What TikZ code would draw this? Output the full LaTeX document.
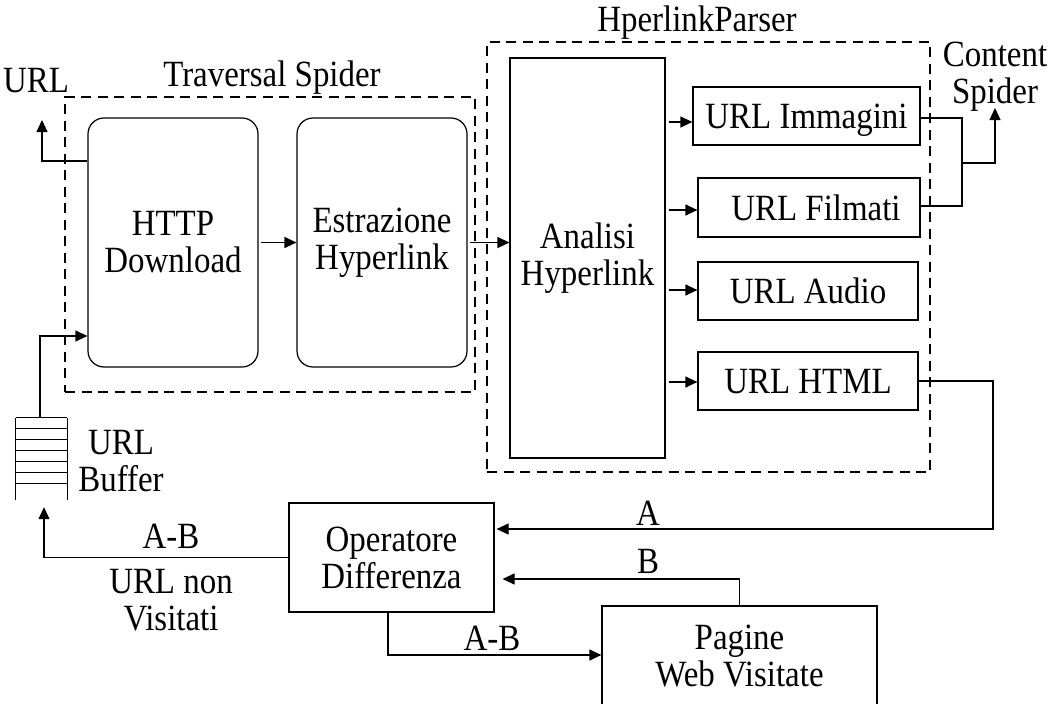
\documentclass[tikz,border=0pt]{standalone}
\usepackage{fontspec}
\setmainfont{Liberation Serif}[FakeStretch=0.89]
\usetikzlibrary{arrows.meta}
\begin{document}
\begin{tikzpicture}[x=1pt,y=-1pt,
  every node/.style={font=\fontsize{37}{37}\selectfont, align=center, inner sep=0pt},
  box/.style={draw, line width=1.2pt, minimum width=#1},
  rbox/.style={draw, line width=1.2pt, rounded corners=16pt},
  group/.style={draw, line width=2pt, dash pattern=on 10pt off 6.5pt},
  conn/.style={line width=1.2pt},
  arr/.style={conn, -{Triangle[length=12pt,width=11pt]}},
  lbl/.style={anchor=base}]
\useasboundingbox (0,0) rectangle (1055,704);

% dashed groups
\node[group, minimum width=410pt, minimum height=295pt] (trav) at (270,244.5) {};
\node[lbl] (travlbl) at (272,86) {Traversal Spider};
\node[group, minimum width=443pt, minimum height=430pt] (parser) at (708.5,257) {};
\node[lbl] (parserlbl) at (697,31) {HperlinkParser};

% traversal spider stages
\node[rbox, minimum width=170pt, minimum height=249pt] (http) at (173,242.5) {HTTP\\Download};
\node[rbox, minimum width=170pt, minimum height=249pt] (estr) at (382,242.5) {Estrazione\\Hyperlink};

% hyperlink parser
\node[box=155pt, minimum height=400pt] (analisi) at (587.5,258) {Analisi\\Hyperlink};
\node[box=227pt, minimum height=58pt, text depth=0pt] (imm) at (806.5,116) {URL Immagini};
\node[box=222pt, minimum height=59pt, text depth=0pt] (film) at (809,207.5) {\hspace*{14pt}URL Filmati};
\node[box=220pt, minimum height=58pt, text depth=0pt] (audio) at (808,291) {URL Audio};
\node[box=220pt, minimum height=58pt, text depth=0pt] (html) at (808,381) {URL HTML};

% difference operator and visited pages
\node[box=205pt, minimum height=109pt] (oper) at (391.5,557.5) {Operatore\\Differenza};
\node[box=275pt, minimum height=100pt] (pagine) at (739.5,656) {Pagine\\Web Visitate};

% URL buffer
\node[minimum width=51pt, minimum height=82pt] (buf) at (41.5,459) {};
\draw[conn] (buf.north west) -- (buf.south west);
\draw[conn] (buf.north east) -- (buf.south east);
\foreach \k in {0,...,6}
  \draw[conn] ([yshift=-11*\k pt]buf.north west) -- ([yshift=-11*\k pt]buf.north east);
\node (buflbl) at (121,461) {URL\\Buffer};

% free labels
\node[lbl] (urllbl) at (36,92) {URL};
\node (cslbl) at (995,77) {Content\\Spider};
\node[lbl] (alb) at (648,525) {A};
\node[lbl] (blb) at (648,573) {B};
\node[lbl] (ablb1) at (171,548) {A-B};
\node[lbl] (ablb2) at (492,650) {A-B};
\node (nonvis) at (171,600) {URL non\\Visitati};

% connector end points
\coordinate (urlout) at (42,120);
\coordinate (csout) at (995,108);
\coordinate (csjoin) at (962,163);
\coordinate (aturn) at (993,529);

% connectors
\draw[arr] ([xshift=2pt]http.east) -- (estr.west);
\draw[arr] ([xshift=2pt]estr.east) -- (estr.east -| analisi.west);
\draw[arr] (http.west |- 0,161) -| (urlout);
\draw[arr] ([xshift=-1.5pt]buf.north) |- (http.west |- 0,336);

\draw[arr] ([xshift=3pt]analisi.east |- 0,122) -- (imm.west |- 0,122);
\draw[arr] ([xshift=3pt]analisi.east |- 0,210) -- (film.west |- 0,210);
\draw[arr] ([xshift=3pt]analisi.east |- 0,290) -- (audio.west |- 0,290);
\draw[arr] ([xshift=3pt]analisi.east |- 0,382) -- (html.west |- 0,382);

\draw[conn] (imm.east |- 0,118) -| (csjoin) |- (film.east |- 0,206);
\draw[arr] (csjoin) -| (csout);

\draw[arr] (html.east) -| (aturn) -- ([xshift=2pt]oper.east |- aturn);
\draw[arr] (pagine.north) |- ([xshift=8pt]oper.east |- 0,579);
\draw[arr] (oper.south -| 388,0) |- (pagine.west |- 0,655);
\draw[arr] (oper.west) -| ([yshift=-7pt]buf.south -| 44,0);
\end{tikzpicture}
\end{document}
